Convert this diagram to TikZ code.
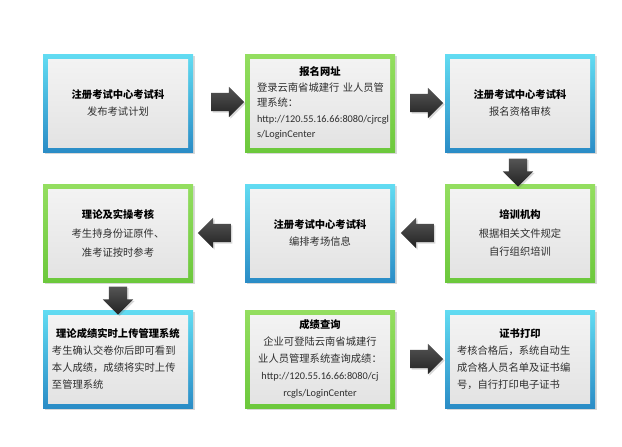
\documentclass[tikz,border=0pt]{standalone}
\usepackage{fontspec}
\setmainfont{Noto Sans CJK SC}
\newfontfamily\lat{Carlito}
\usetikzlibrary{shapes.arrows,shadows,calc}
\definecolor{bluetop}{HTML}{62DCF2}
\definecolor{bluebot}{HTML}{2A8CC6}
\definecolor{greentop}{HTML}{94DE60}
\definecolor{greenbot}{HTML}{6CC83C}
\definecolor{graytop}{HTML}{F3F3F3}
\definecolor{graybot}{HTML}{E3E3E3}
\definecolor{bodytxt}{HTML}{2E2E2E}
\definecolor{arrtop}{HTML}{555555}
\definecolor{arrbot}{HTML}{222222}
\begin{document}
\begin{tikzpicture}[x=1pt,y=-1pt,
  frame/.style={minimum width=150pt, minimum height=98pt, inner sep=0pt,
    drop shadow={shadow xshift=2pt, shadow yshift=-2pt, opacity=0.3}},
  blueframe/.style={frame, top color=bluetop, bottom color=bluebot},
  greenframe/.style={frame, top color=greentop, bottom color=greenbot},
  inbox/.style={minimum width=140pt, minimum height=88pt, inner sep=0pt,
    top color=graytop, bottom color=graybot, text=bodytxt,
    font=\fontsize{10.3}{17}\selectfont},
  arr/.style={single arrow, minimum height=33pt, inner xsep=0pt, inner ysep=9pt,
    single arrow head extend=6pt,
    top color=arrtop, bottom color=arrbot,
    drop shadow={shadow xshift=1.5pt, shadow yshift=-1.5pt, opacity=0.3}},
  rarr/.style={arr},
  larr/.style={arr, shape border rotate=180},
  darr/.style={arr, minimum height=28pt, inner xsep=9pt, inner ysep=0pt, shape border rotate=270}
]
\useasboundingbox[fill=white] (0,0) rectangle (622,447);
\newcommand{\ttlx}[1]{{\color{black}\bfseries #1}}
% row 1
\node[blueframe] (f1) at (118,103) {};
\node[inbox, align=center] (t1) at (f1.center) {\ttlx{注册考试中心考试科}\\发布考试计划};
\node[greenframe] (f2) at (320,103) {};
\node[inbox, align=left, text width=126pt, font=\fontsize{10.3}{15.5}\selectfont] (t2) at (f2.center)
  {\makebox[\linewidth][c]{\ttlx{报名网址}}\\\mbox{登录云南省城建行 业人员管}\\理系统：\\{\lat http://120.55.16.66:8080/cjrcgl}\\{\lat s/LoginCenter}};
\node[blueframe] (f3) at (520,103) {};
\node[inbox, align=center] (t3) at (f3.center) {\ttlx{注册考试中心考试科}\\报名资格审核};
% row 2
\node[greenframe] (f4) at (118,233) {};
\node[inbox, align=center, font=\fontsize{10.3}{19}\selectfont] (t4) at (f4.center) {\ttlx{理论及实操考核}\\考生持身份证原件、\\准考证按时参考};
\node[blueframe] (f5) at (320,233) {};
\node[inbox, align=center] (t5) at (f5.center) {\ttlx{注册考试中心考试科}\\编排考场信息};
\node[greenframe] (f6) at (520,233) {};
\node[inbox, align=center, font=\fontsize{10.3}{18.5}\selectfont] (t6) at (f6.center) {\ttlx{培训机构}\\根据相关文件规定\\自行组织培训};
% row 3
\node[blueframe] (f7) at (118,359) {};
\node[inbox, align=left, text width=132pt] (t7) at (f7.center)
  {\makebox[\linewidth][c]{\ttlx{理论成绩实时上传管理系统}}\\考生确认交卷你后即可看到\\本人成绩，成绩将实时上传\\至管理系统};
\node[greenframe] (f8) at (320,359) {};
\node[inbox, align=center, font=\fontsize{10.3}{17}\selectfont] (t8) at (f8.center)
  {\ttlx{成绩查询}\\企业可登陆云南省城建行\\业人员管理系统查询成绩：\\{\lat http://120.55.16.66:8080/cj}\\{\lat rcgls/LoginCenter}};
\node[blueframe] (f9) at (520,359) {};
\node[inbox, align=left, text width=126pt] (t9) at (f9.center)
  {\makebox[\linewidth][c]{\ttlx{证书打印}}\\考核合格后，系统自动生\\成合格人员名单及证书编\\号，自行打印电子证书};
% arrows
\node[rarr] (a1) at ($(f1.east)!0.5!(f2.west)+(4,-1)$) {};
\node[rarr] (a2) at ($(f2.east)!0.5!(f3.west)+(2,0)$) {};
\node[darr] (a3) at ($(f3.south)!0.5!(f6.north)+(-2,0)$) {};
\node[larr] (a4) at ($(f6.west)!0.5!(f5.east)+(2,0)$) {};
\node[larr] (a5) at ($(f5.west)!0.5!(f4.east)$) {};
\node[darr] (a6) at ($(f4.south)!0.5!(f7.north)$) {};
\node[rarr] (a7) at ($(f8.east)!0.5!(f9.west)+(2,0)$) {};
\end{tikzpicture}
\end{document}
